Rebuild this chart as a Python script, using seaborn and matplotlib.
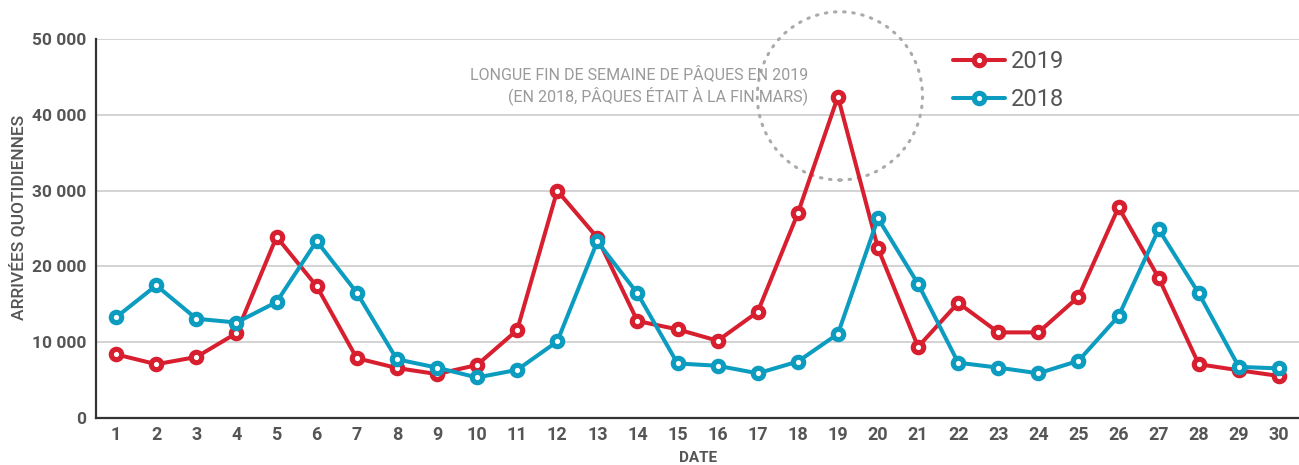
import pandas as pd
import seaborn as sns
import matplotlib.pyplot as plt
from matplotlib.patches import Ellipse
from matplotlib.ticker import FixedLocator, FuncFormatter

# donnees
jours = list(range(1, 31))
arrivees_2019 = [8400, 7100, 8050, 11200, 23900, 17400, 7900, 6600, 5800, 7000,
                 11600, 30000, 23800, 12800, 11700, 10200, 14000, 27000, 42400, 22400,
                 9400, 15200, 11300, 11300, 16000, 27800, 18500, 7100, 6300, 5550]
arrivees_2018 = [13300, 17500, 13100, 12600, 15300, 23350, 16550, 7750, 6650, 5350,
                 6350, 10100, 23300, 16450, 7200, 6900, 5900, 7450, 11100, 26350,
                 17700, 7300, 6650, 5900, 7550, 13450, 24900, 16450, 6750, 6550]
annees = ['2019', '2018']
couleurs = {'2019': '#d71f2f', '2018': '#0b9cc0'}

df = pd.DataFrame({
    'jour': jours * 2,
    'arrivees': arrivees_2019 + arrivees_2018,
    'annee': ['2019'] * 30 + ['2018'] * 30,
})

sns.set_style('white')
plt.rcParams['font.family'] = ['Roboto', 'DejaVu Sans']
gris = '#555555'

fig = plt.figure(figsize=(12.99, 4.65), dpi=100)
ax = fig.add_axes([0.074, 0.101, 0.926, 0.815])

for a in annees:
    sns.lineplot(data=df[df['annee'] == a], x='jour', y='arrivees', label=a,
                 color=couleurs[a], marker='o', markersize=7.5, markeredgewidth=3.7,
                 markerfacecolor='white', markeredgecolor=couleurs[a],
                 linewidth=2.9, ax=ax, zorder=3)

ax.set_xlim(0.5, 30.5)
ax.set_ylim(0, 50000)
ax.set_yticks(range(0, 50001, 10000))
ax.yaxis.set_major_formatter(FuncFormatter(lambda v, p: f'{int(v):,}'.replace(',', ' ')))
ax.set_xticks(jours)
ax.xaxis.set_minor_locator(FixedLocator([j + 0.5 for j in range(0, 30)]))
ax.tick_params(axis='x', which='major', length=0, pad=6, labelsize=13, colors=gris)
ax.tick_params(axis='x', which='minor', length=7, width=1.2, direction='in', color='#333333')
ax.tick_params(axis='y', length=0, pad=7, labelsize=12.5, colors=gris)
for lab in ax.get_xticklabels() + ax.get_yticklabels():
    lab.set_fontweight('bold')

ax.grid(axis='y', color='#cccccc', linewidth=1.2, zorder=0)
for s in ['top', 'right']:
    ax.spines[s].set_visible(False)
for s in ['left', 'bottom']:
    ax.spines[s].set_color('#333333')
    ax.spines[s].set_linewidth(1.6)

ax.set_xlabel('DATE', fontsize=11, fontweight='bold', color=gris)
ax.xaxis.set_label_coords(0.5, -0.088)
ax.set_ylabel('ARRIVÉES QUOTIDIENNES', fontsize=12.5, fontweight='medium', color=gris)
ax.yaxis.set_label_coords(-0.058, 0.53)

# cercle pointille autour du pic de paques
cercle = Ellipse((19.05, 42500), 4.12, 22200, fill=False, edgecolor='#aaaaaa',
                 linestyle=(0, (0.5, 2.5)), linewidth=2.2, zorder=2, clip_on=False)
cercle.set_capstyle('round')
ax.add_patch(cercle)
ax.text(18.25, 43900, 'LONGUE FIN DE SEMAINE DE PÂQUES EN 2019\n(EN 2018, PÂQUES ÉTAIT À LA FIN MARS)',
        ha='right', va='center', fontsize=11.5, color='#9a9a9a', linespacing=1.3, zorder=4)

leg = ax.legend(loc='upper left', bbox_to_anchor=(941 / 1299, 1 - 38 / 465),
                bbox_transform=fig.transFigure, frameon=False, borderpad=0,
                fontsize=17, handlelength=2.2, handletextpad=0.25, labelspacing=0.66)
for t in leg.get_texts():
    t.set_color(gris)

fig.savefig('out.png', dpi=100)
